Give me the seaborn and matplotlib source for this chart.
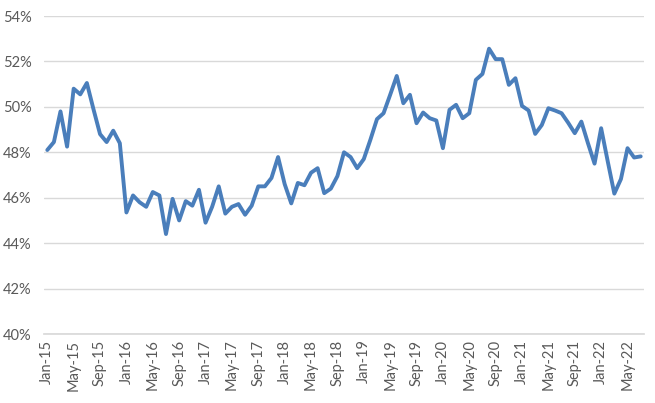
import matplotlib
matplotlib.use("Agg")
import matplotlib.pyplot as plt
import seaborn as sns
import pandas as pd
from matplotlib.ticker import FuncFormatter

months = pd.date_range("2015-01-01", "2022-07-01", freq="MS").strftime("%b-%y").tolist()

values = [
    48.1, 48.45, 49.8, 48.25, 50.8, 50.55, 51.05, 49.9, 48.8, 48.45, 48.95, 48.4,
    45.35, 46.1, 45.8, 45.6, 46.25, 46.1, 44.4, 45.95, 45.0, 45.85, 45.65, 46.35,
    44.9, 45.6, 46.5, 45.3, 45.6, 45.72, 45.25, 45.65, 46.5, 46.5, 46.87, 47.79,
    46.6, 45.75, 46.65, 46.55, 47.1, 47.3, 46.2, 46.4, 46.95, 48.0, 47.79, 47.3,
    47.7, 48.55, 49.46, 49.72, 50.53, 51.36, 50.16, 50.53, 49.28, 49.75, 49.5, 49.4,
    48.18, 49.87, 50.09, 49.5, 49.72, 51.19, 51.45, 52.56, 52.1, 52.1, 50.97, 51.26,
    50.04, 49.84, 48.81, 49.2, 49.94, 49.84, 49.72, 49.3, 48.84, 49.35, 48.4, 47.5,
    49.06, 47.6, 46.18, 46.82, 48.18, 47.77, 47.82,
]

y_ticks = [40, 42, 44, 46, 48, 50, 52, 54]

df = pd.DataFrame({"idx": range(len(values)), "value": values, "month": months})

sns.set_theme(style="white")
plt.rcParams["font.family"] = ["Lato", "DejaVu Sans"]

fig = plt.figure(figsize=(6.55, 4.03), dpi=100)
ax = fig.add_axes([44 / 655, 69 / 403, 600 / 655, 318 / 403])

sns.lineplot(data=df, x="idx", y="value", ax=ax, color="#4a7ebb", linewidth=2.8)

ax.set_xlim(-0.5, len(values) - 0.5)
ax.set_ylim(40, 54)
ax.set_yticks(y_ticks)
ax.yaxis.set_major_formatter(FuncFormatter(lambda v, p: f"{v:.0f}%"))
tick_pos = list(range(0, len(values), 4))
ax.set_xticks(tick_pos)
ax.set_xticklabels([months[i] for i in tick_pos], rotation=90)
ax.set_xlabel("")
ax.set_ylabel("")
ax.grid(axis="y", color="#d9d9d9", linewidth=1.0)
ax.set_axisbelow(True)
for s in ["top", "right", "left"]:
    ax.spines[s].set_visible(False)
ax.spines["bottom"].set_color("#d9d9d9")
ax.tick_params(axis="both", length=0, labelsize=10.5, labelcolor="#595959", pad=4)
ax.tick_params(axis="y", pad=9)

fig.savefig("out.png", dpi=100)
